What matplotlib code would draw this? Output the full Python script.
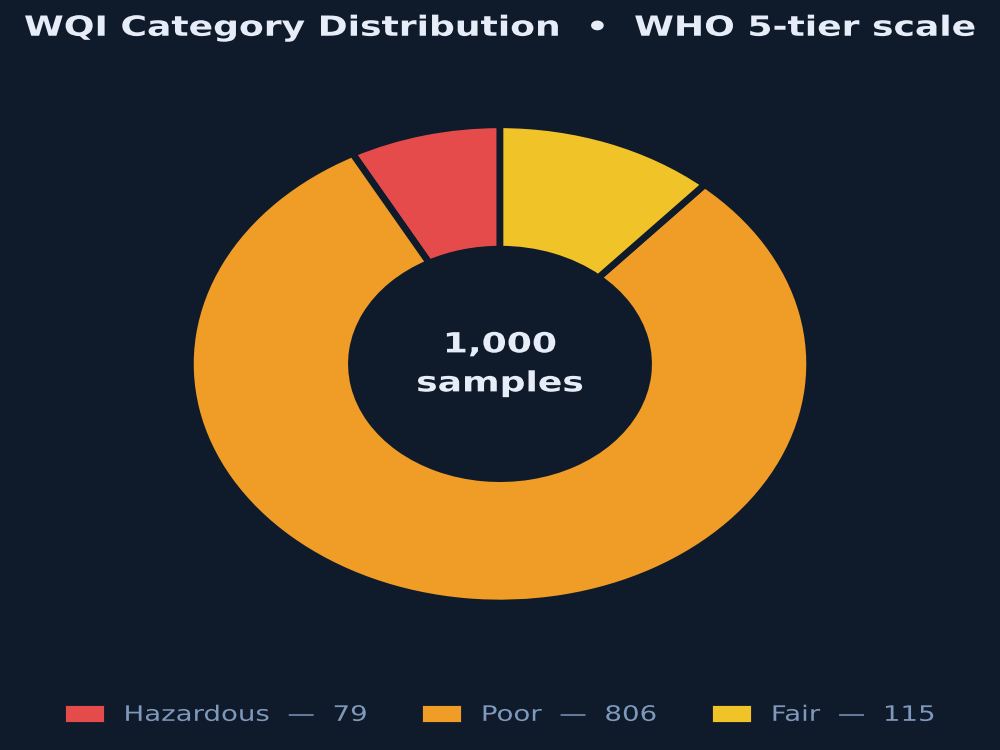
import matplotlib
matplotlib.use("Agg")
import matplotlib.pyplot as plt
from matplotlib.patches import Patch
from matplotlib.patheffects import AbstractPathEffect
from matplotlib.transforms import Affine2D

categories = ['Hazardous', 'Poor', 'Fair']
counts = [79, 806, 115]
colors = ['#e54b4b', '#ef9d27', '#f0c328']
bg = '#0f1b2a'


class StretchX(AbstractPathEffect):
    # the reference looks rendered narrow and then widened ~1.3x, so widen glyphs about x=cx
    def __init__(self, sx, cx):
        super().__init__()
        self.sx, self.cx = sx, cx

    def draw_path(self, renderer, gc, tpath, affine, rgbFace=None):
        st = Affine2D().translate(-self.cx, 0).scale(self.sx, 1).translate(self.cx, 0)
        renderer.draw_path(gc, tpath, affine + st, rgbFace)


fig = plt.figure(figsize=(10, 7.5), dpi=100, facecolor=bg)
stretch = [StretchX(1.3, 500)]

ax = fig.add_axes([0.113, 0.1163, 0.774, 0.797])
ax.set_facecolor(bg)
wedges, _ = ax.pie(counts, colors=colors, startangle=90, counterclock=True,
                   wedgeprops=dict(width=0.52, edgecolor=bg, linewidth=4.8))
ax.set_aspect('auto')
ax.set_xlim(-1.25, 1.25)
ax.set_ylim(-1.25, 1.25)
ax.axis('off')

ax.text(0, 0, f'{sum(counts):,}\nsamples', ha='center', va='center',
        fontsize=20, fontweight='bold', color='#e6edf8', linespacing=1.5,
        path_effects=stretch)

fig.text(0.5, 0.963, 'WQI Category Distribution  \u2022  WHO 5-tier scale',
         ha='center', va='center', fontsize=20, fontweight='bold', color='#e6edf8',
         path_effects=stretch)

handles = [Patch(facecolor=c, edgecolor=bg, linewidth=0.6) for c in colors]
labels = [f'{c}  \u2014  {n}' for c, n in zip(categories, counts)]
leg = fig.legend(handles, labels, loc='center', bbox_to_anchor=(0.5, 0.047), ncol=3,
                 frameon=False, fontsize=15.3, handlelength=1.4, handleheight=0.9,
                 handletextpad=0.72, columnspacing=2.0)
for t in leg.get_texts():
    t.set_color('#7f99bd')
    t.set_path_effects(stretch)
for h in leg.legend_handles:
    h.set_path_effects(stretch)

fig.savefig('out.png', dpi=100, facecolor=bg)
